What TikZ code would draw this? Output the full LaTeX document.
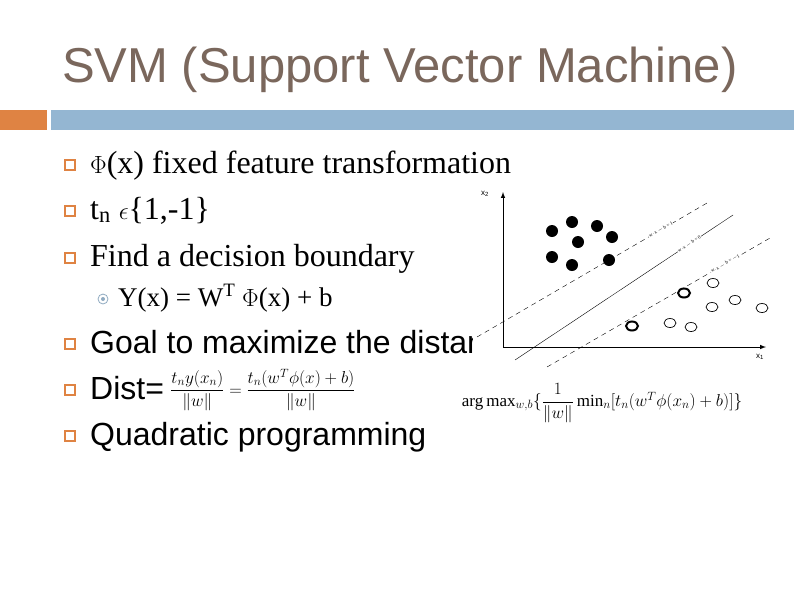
\documentclass[tikz,border=0pt]{standalone}
\usepackage{fontspec}
\setmainfont{Liberation Serif}
\setsansfont{Liberation Sans}
\usepackage{amsmath}
\definecolor{titlegray}{HTML}{7A675C}
\definecolor{barorange}{HTML}{DF8343}
\definecolor{barblue}{HTML}{94B6D2}
\tikzset{
	bullet/.style={draw=barorange, line width=1.2pt, minimum size=10pt, inner sep=0pt},
	item/.style={anchor=base west, inner sep=0pt},
	dot/.style={circle, fill=black, minimum width=12pt, minimum height=9pt, inner sep=0pt},
	ring/.style={ellipse, draw, minimum width=12pt, minimum height=9pt, inner sep=0pt},
	margin/.style={dashed, dash pattern=on 5pt off 4pt},
	tiny/.style={font=\fontsize{5}{5}\selectfont, sloped, fill=white, inner sep=0.5pt}
}
\usetikzlibrary{shapes.geometric}
\begin{document}
\begin{tikzpicture}[x=1pt,y=-1pt]
	\useasboundingbox (0,0) rectangle (794,595);
	\fill[white] (0,0) rectangle (794,595);
	\node[item, font=\sffamily\fontsize{49}{49}\selectfont, text=titlegray] (title) at (62,82) {SVM (Support Vector Machine)};
	\fill[barorange] (0,110) rectangle (47,130);
	\fill[barblue] (51,110) rectangle (794,130);
	% bullet list
	\foreach \y in {165,211,258,344,390,436}
		\node[bullet] at (70,\y) {};
	\node[item, font=\fontsize{32}{32}\selectfont] (phi) at (90,173) {$\Phi$(x) fixed feature transformation};
	\node[item, font=\fontsize{32}{32}\selectfont] (tn) at (90,219) {t\textsubscript{n} $\epsilon$\{1,-1\}};
	\node[item, font=\fontsize{32}{32}\selectfont] (find) at (90,266) {Find a decision boundary};
	\node[circle, draw=barblue!80!gray, line width=0.8pt, minimum size=10pt, inner sep=0pt] (sub) at (103,299) {};
	\fill[barblue!80!gray] (sub) circle (2pt);
	\node[item, font=\fontsize{27}{27}\selectfont] (yx) at (118,306) {Y(x) = W\textsuperscript{T} $\Phi$(x) + b};
	\node[item, font=\sffamily\fontsize{32}{32}\selectfont] (goal) at (90,353) {Goal to maximize the distance};
	\node[item, font=\sffamily\fontsize{32}{32}\selectfont] (dist) at (90,399) {Dist=};
	\node[anchor=west, inner sep=0pt, font=\fontsize{17}{17}\selectfont] (distf) at (170,390)
		{$\dfrac{t_n y(x_n)}{\|w\|}=\dfrac{t_n(w^T\phi(x)+b)}{\|w\|}$};
	\node[item, font=\sffamily\fontsize{32}{32}\selectfont] (quad) at (90,445) {Quadratic programming};
	% plot
	\fill[white] (473,185) rectangle (794,372);
	\draw[line width=1pt, -latex] (503,347) -- (503,192);
	\draw[line width=1pt, -latex] (503,347) -- (766,347);
	\node[font=\sffamily\fontsize{8}{8}\selectfont] (x2) at (485,194) {x\textsubscript{2}};
	\node[font=\sffamily\fontsize{8}{8}\selectfont] (x1) at (760,357) {x\textsubscript{1}};
	\coordinate (ua) at (477,337);
	\coordinate (ub) at (707,203);
	\coordinate (sa) at (515,360);
	\coordinate (sb) at (733,215);
	\coordinate (la) at (547,367);
	\coordinate (lb) at (770,238);
	\draw[margin] (ua) -- node[tiny, pos=0.8] {w$\cdot$x $-$ b = 1} (ub);
	\draw (sa) -- node[tiny, pos=0.8] {w$\cdot$x $-$ b = 0} (sb);
	\draw[margin] (la) -- node[tiny, pos=0.8] {w$\cdot$x $-$ b = $-$1} (lb);
	\foreach \p in {(552,231),(572,222),(597,226),(612,237),(578,242),(552,257),(572,265),(609,260)}
		\node[dot] at \p {};
	\foreach \p in {(713,283),(670,323),(691,327),(712,307),(735,300),(762,308)}
		\node[ring, line width=0.7pt] at \p {};
	\foreach \p in {(632,326),(684,293)}
		\node[ring, line width=2pt] at \p {};
	\node[font=\fontsize{17}{17}\selectfont] (argmax) at (602,403)
		{$\arg\max_{w,b}\{\dfrac{1}{\|w\|}\min_n[t_n(w^T\phi(x_n)+b)]\}$};
\end{tikzpicture}
\end{document}
